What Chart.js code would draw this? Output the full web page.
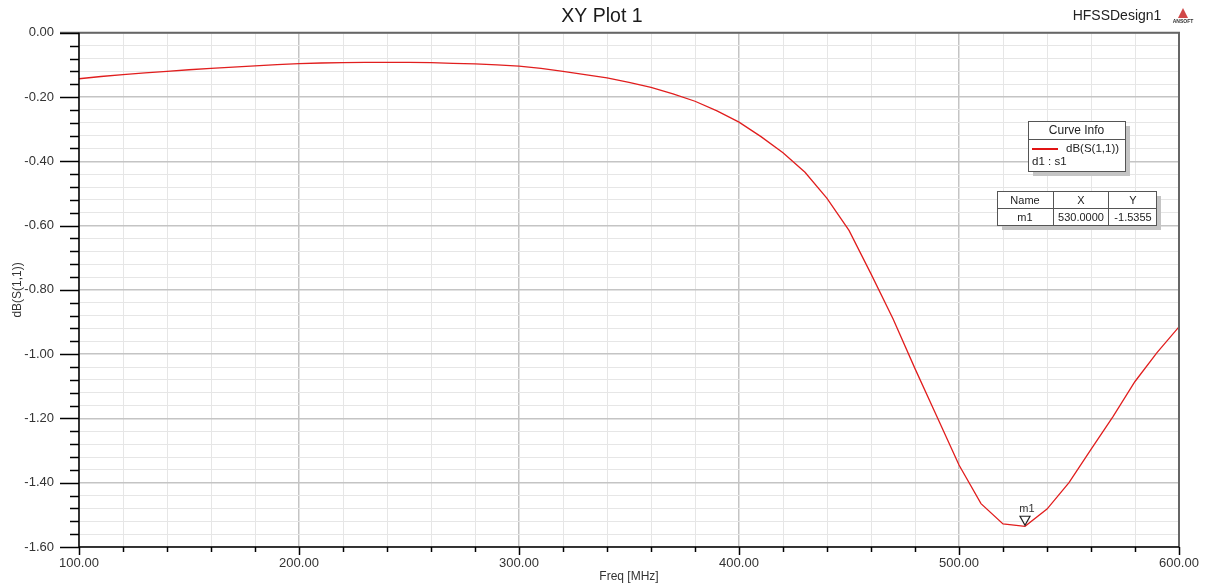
<!DOCTYPE html>
<html>
<head>
<meta charset="utf-8">
<title>XY Plot 1</title>
<script src="https://cdn.jsdelivr.net/npm/chart.js@4.4.1/dist/chart.umd.min.js"></script>
<style>
  html, body { margin: 0; padding: 0; background: #fff; }
  #wrap { position: relative; width: 1211px; height: 586px; }
</style>
</head>
<body>
<div id="wrap"><canvas id="myChart"></canvas></div>
<script>
// frequency sweep (MHz) and return loss
const freqMHz = [100, 110, 120, 130, 140, 150, 160, 170, 180, 190,
                 200, 210, 220, 230, 240, 250, 260, 270, 280, 290,
                 300, 310, 320, 330, 340, 350, 360, 370, 380, 390,
                 400, 410, 420, 430, 440, 450, 460, 470, 480, 490,
                 500, 510, 520, 530, 540, 550, 560, 570, 580, 590, 600];
const dbS11 = [-0.143, -0.136, -0.130, -0.125, -0.120, -0.115, -0.111, -0.107, -0.103, -0.099,
               -0.096, -0.094, -0.093, -0.092, -0.092, -0.092, -0.093, -0.095, -0.097, -0.100,
               -0.104, -0.111, -0.120, -0.130, -0.140, -0.154, -0.170, -0.190, -0.213, -0.243,
               -0.278, -0.323, -0.373, -0.434, -0.515, -0.615, -0.750, -0.890, -1.045, -1.195,
               -1.345, -1.465, -1.528, -1.5355, -1.482, -1.400, -1.296, -1.194, -1.085, -0.995, -0.915];

// marker m1
const markerName = 'm1';
const markerX = 530;
const markerY = -1.5355;

// titles, curve info / marker table text
const plotTitle = 'XY Plot 1';
const designName = 'HFSSDesign1';
const curveLabel = 'dB(S(1,1))';
const curveSub = 'd1 : s1';
const tableHead = ['Name', 'X', 'Y'];
const tableRow = ['m1', '530.0000', '-1.5355'];

const FONT = "'Liberation Sans', Arial, sans-serif";
Chart.defaults.font.family = FONT;

function xMajor(v) { return Math.round(v / 20) % 5 === 0; }
function yMajor(v) { return Math.round(v / 0.04) % 5 === 0; }

// extra drawing: title, axes, tick marks, marker, legend boxes
const hfssOverlay = {
    id: 'hfssOverlay',
    afterDraw(chart) {
        const ctx = chart.ctx;
        const a = chart.chartArea;
        const x = chart.scales.x;
        const y = chart.scales.y;
        ctx.save();

        // title
        ctx.fillStyle = '#1a1a1a';
        ctx.font = '19.5px ' + FONT;
        ctx.textAlign = 'center';
        ctx.textBaseline = 'middle';
        ctx.fillText(plotTitle, 602, 17);

        // frame top + right
        ctx.strokeStyle = '#666';
        ctx.lineWidth = 2;
        ctx.beginPath();
        ctx.moveTo(a.left - 19, a.top);
        ctx.lineTo(a.right, a.top);
        ctx.lineTo(a.right, a.bottom);
        ctx.stroke();

        // axes
        ctx.strokeStyle = '#000';
        ctx.lineWidth = 1.5;
        ctx.beginPath();
        ctx.moveTo(a.left, a.top);
        ctx.lineTo(a.left, a.bottom);
        ctx.lineTo(a.right, a.bottom);
        ctx.stroke();

        // y tick marks
        y.ticks.forEach(t => {
            const py = Math.round(y.getPixelForValue(t.value)) + 0.5;
            const len = yMajor(t.value) ? 19 : 9;
            ctx.beginPath();
            ctx.moveTo(a.left - len, py);
            ctx.lineTo(a.left, py);
            ctx.stroke();
        });
        // x tick marks
        x.ticks.forEach(t => {
            const px = Math.round(x.getPixelForValue(t.value)) + 0.5;
            const len = xMajor(t.value) ? 8 : 5;
            ctx.beginPath();
            ctx.moveTo(px, a.bottom);
            ctx.lineTo(px, a.bottom + len);
            ctx.stroke();
        });

        // marker triangle
        const mx = x.getPixelForValue(markerX);
        const my = y.getPixelForValue(markerY);
        ctx.strokeStyle = '#222';
        ctx.lineWidth = 1.2;
        ctx.beginPath();
        ctx.moveTo(mx - 5, my - 10);
        ctx.lineTo(mx + 5, my - 10);
        ctx.lineTo(mx, my - 1);
        ctx.closePath();
        ctx.stroke();
        ctx.fillStyle = '#333';
        ctx.font = '11px ' + FONT;
        ctx.fillText(markerName, mx + 2, my - 17);

        // curve info box
        let bx = 1028, by = 121, bw = 97, bh = 50;
        ctx.fillStyle = '#c4c4c4';
        ctx.fillRect(bx + 5, by + 5, bw, bh);
        ctx.fillStyle = '#fff';
        ctx.fillRect(bx, by, bw, bh);
        ctx.strokeStyle = '#555';
        ctx.lineWidth = 1;
        ctx.strokeRect(bx + 0.5, by + 0.5, bw, bh);
        ctx.beginPath();
        ctx.moveTo(bx, by + 18.5);
        ctx.lineTo(bx + bw, by + 18.5);
        ctx.stroke();
        ctx.fillStyle = '#222';
        ctx.font = '12px ' + FONT;
        ctx.fillText('Curve Info', bx + bw / 2, by + 10);
        ctx.strokeStyle = 'rgb(225, 20, 20)';
        ctx.lineWidth = 2;
        ctx.beginPath();
        ctx.moveTo(bx + 4, by + 28);
        ctx.lineTo(bx + 30, by + 28);
        ctx.stroke();
        ctx.font = '11.5px ' + FONT;
        ctx.textAlign = 'left';
        ctx.fillText(curveLabel, bx + 38, by + 28);
        ctx.fillText(curveSub, bx + 4, by + 41);

        // marker table
        bx = 997; by = 191; bw = 159; bh = 34;
        ctx.fillStyle = '#c4c4c4';
        ctx.fillRect(bx + 5, by + 5, bw, bh);
        ctx.fillStyle = '#fff';
        ctx.fillRect(bx, by, bw, bh);
        ctx.strokeStyle = '#555';
        ctx.lineWidth = 1;
        ctx.strokeRect(bx + 0.5, by + 0.5, bw, bh);
        ctx.beginPath();
        ctx.moveTo(bx, by + 17.5); ctx.lineTo(bx + bw, by + 17.5);
        ctx.moveTo(1053.5, by); ctx.lineTo(1053.5, by + bh);
        ctx.moveTo(1108.5, by); ctx.lineTo(1108.5, by + bh);
        ctx.stroke();
        const colC = [1025, 1081, 1133];
        ctx.fillStyle = '#222';
        ctx.font = '11px ' + FONT;
        ctx.textAlign = 'center';
        for (let i = 0; i < 3; i++) {
            ctx.fillText(tableHead[i], colC[i], by + 9.5);
            ctx.fillText(tableRow[i], colC[i], by + 26.5);
        }

        // design name + logo
        ctx.font = '14px ' + FONT;
        ctx.fillStyle = '#222';
        ctx.fillText(designName, 1117, 16);
        ctx.fillStyle = '#d04848';
        ctx.beginPath();
        ctx.moveTo(1183, 8);
        ctx.lineTo(1178, 18);
        ctx.lineTo(1188, 18);
        ctx.closePath();
        ctx.fill();
        ctx.fillStyle = '#333';
        ctx.font = 'bold 5px ' + FONT;
        ctx.fillText('ANSOFT', 1183, 22);

        ctx.restore();
    }
};

const data = {
    datasets: [{
        label: curveLabel,
        data: freqMHz.map((f, i) => ({ x: f, y: dbS11[i] })),
        borderColor: 'rgb(225, 30, 30)',
        borderWidth: 1.3,
        pointRadius: 0,
        tension: 0,
        fill: false
    }]
};

const scales = {
    x: {
        type: 'linear',
        min: 100,
        max: 600,
        afterFit(scale) { scale.height = 39; },
        border: { display: false },
        grid: {
            drawTicks: false,
            color: c => xMajor(c.tick.value) ? '#c4c4c4' : '#e6e6e6',
            lineWidth: c => xMajor(c.tick.value) ? 1.5 : 1
        },
        ticks: {
            stepSize: 20,
            autoSkip: false,
            maxRotation: 0,
            padding: 9,
            color: '#333',
            font: { size: 13 },
            callback: v => xMajor(v) ? v.toFixed(2) : ''
        },
        title: {
            display: true,
            text: 'Freq [MHz]',
            color: '#333',
            font: { size: 12 },
            padding: { top: 2, bottom: 2 }
        }
    },
    y: {
        type: 'linear',
        min: -1.6,
        max: 0,
        afterFit(scale) { scale.width = 79; },
        border: { display: false },
        grid: {
            drawTicks: false,
            color: c => yMajor(c.tick.value) ? '#c4c4c4' : '#e6e6e6',
            lineWidth: c => yMajor(c.tick.value) ? 1.5 : 1
        },
        ticks: {
            stepSize: 0.04,
            maxTicksLimit: 60,
            autoSkip: false,
            padding: 25,
            color: '#333',
            font: { size: 13 },
            callback: v => yMajor(v) ? v.toFixed(2) : ''
        },
        title: {
            display: true,
            text: 'dB(S(1,1))',
            color: '#333',
            font: { size: 12 },
            padding: { top: 10, bottom: 10 }
        }
    }
};

const config = {
    type: 'line',
    data,
    options: {
        responsive: true,
        maintainAspectRatio: false,
        animation: false,
        layout: { padding: { left: 0, right: 32, top: 32, bottom: 0 } },
        scales: scales,
        plugins: {
            legend: { display: false },
            tooltip: { enabled: false },
            title: { display: false }
        }
    },
    plugins: [hfssOverlay]
};

const myChart = new Chart(document.getElementById('myChart'), config);
</script>
</body>
</html>
